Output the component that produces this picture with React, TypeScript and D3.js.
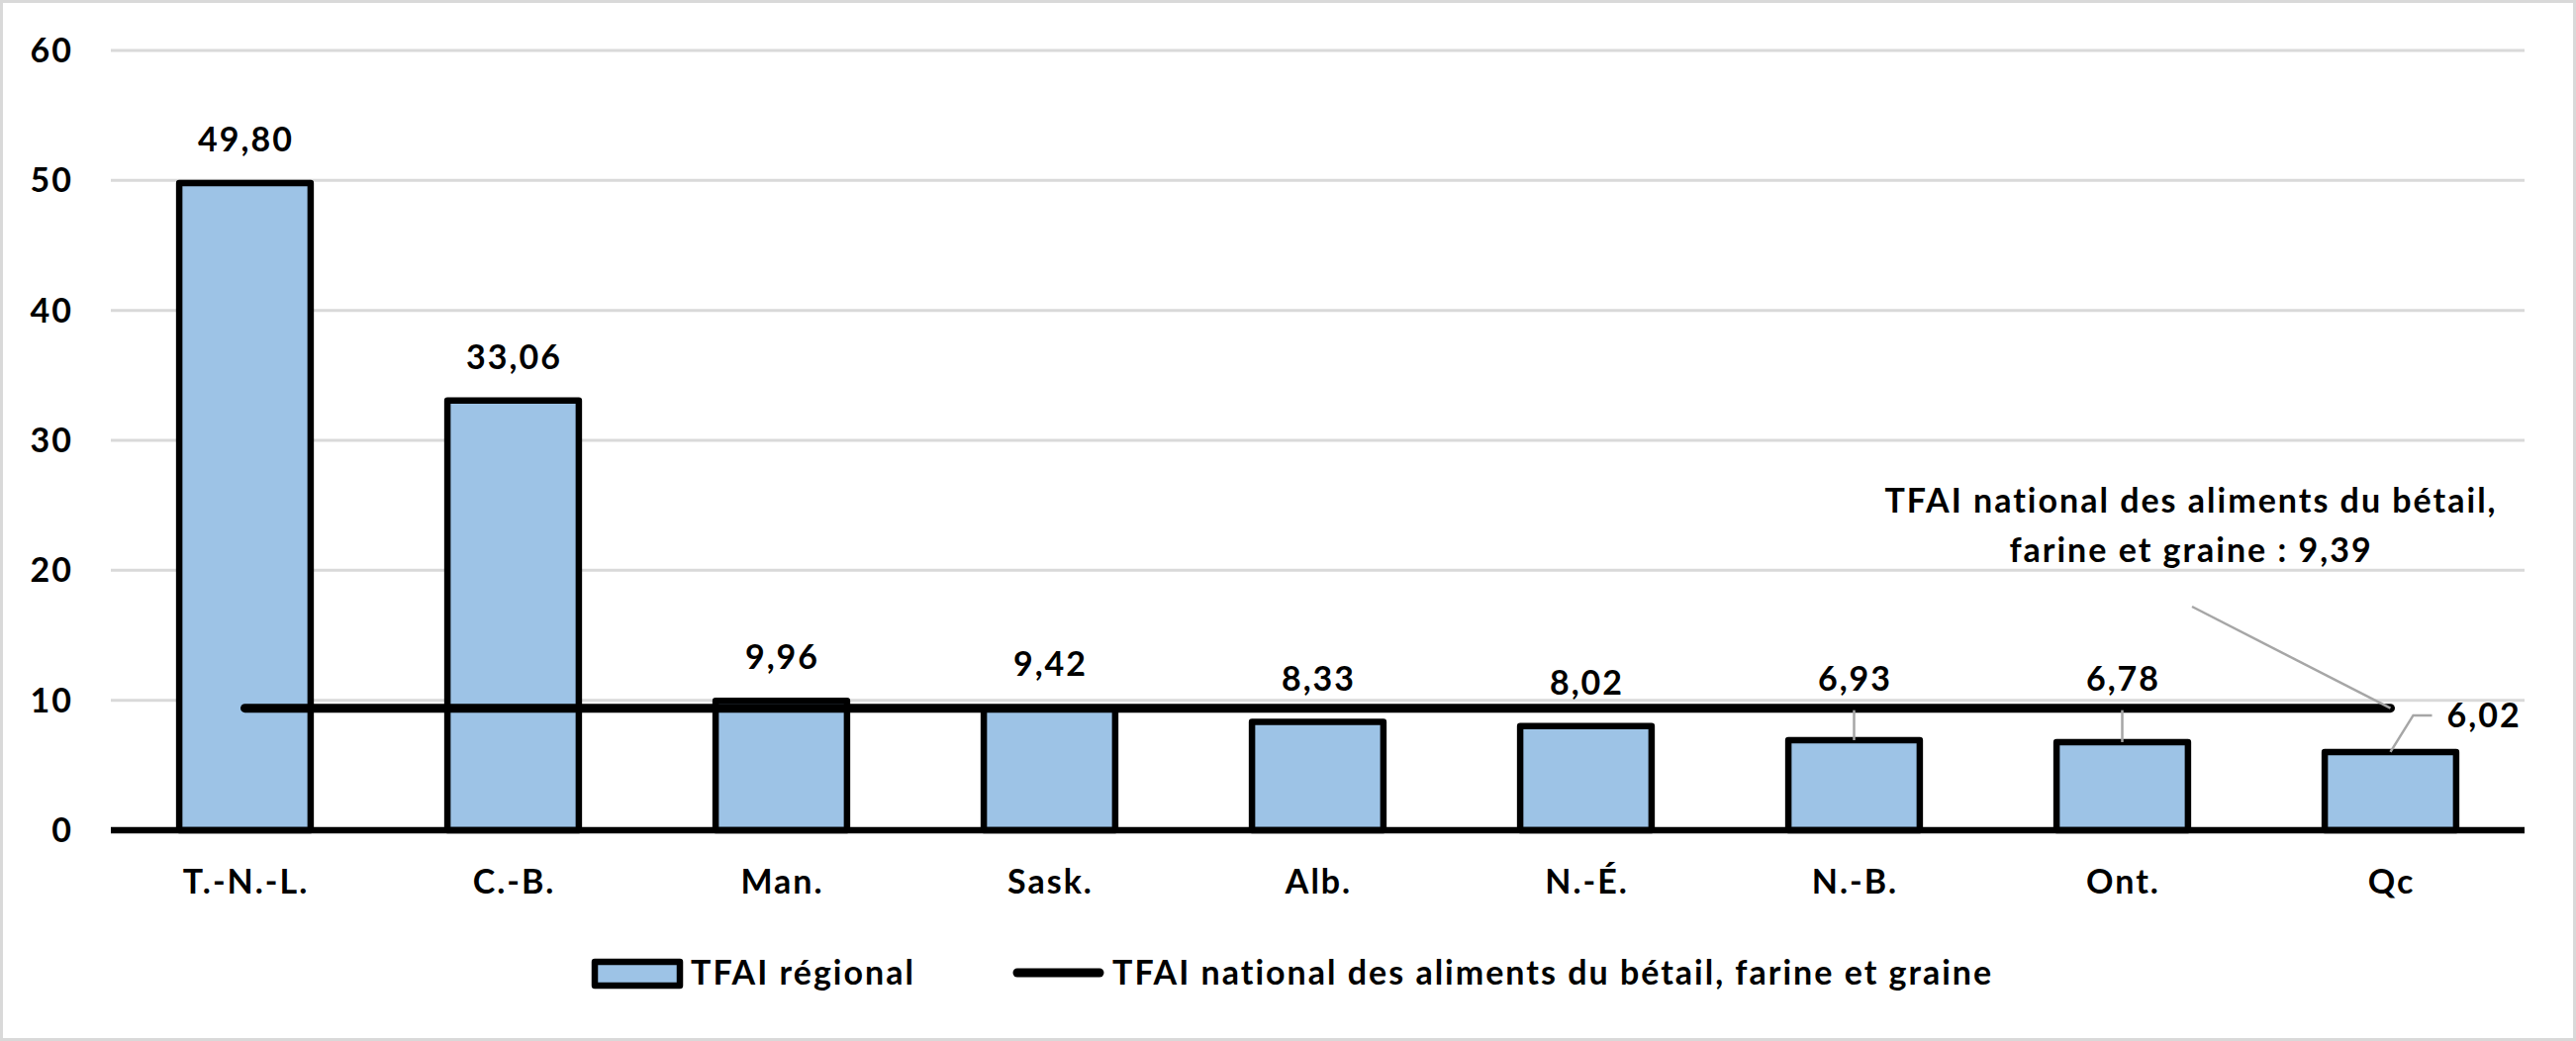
import React from "react";
import * as d3 from "d3";

const categories = ["T.-N.-L.", "C.-B.", "Man.", "Sask.", "Alb.", "N.-É.", "N.-B.", "Ont.", "Qc"];
const regionalValues = [49.8, 33.06, 9.96, 9.42, 8.33, 8.02, 6.93, 6.78, 6.02];
const nationalValue = 9.39;
const yTicks = [0, 10, 20, 30, 40, 50, 60];
const seriesNames = ["TFAI régional", "TFAI national des aliments du bétail, farine et graine"];
const annotationLines = ["TFAI national des aliments du bétail,", "farine et graine : 9,39"];

const W = 2603;
const H = 1052;
const FONT = "Lato, 'Noto Sans', sans-serif";
const FS = 34;
const LS = 2;
const BLUE = "#9DC3E6";
const GRID = "#D9D9D9";
const LEADER = "#A6A6A6";

const fmt = (v: number) => v.toFixed(2).replace(".", ",");

export default function App() {
  const x = d3
    .scaleBand<string>()
    .domain(categories)
    .range([112, 2551])
    .paddingInner(0.51)
    .paddingOuter(0.255);
  const y = d3.scaleLinear().domain([0, 60]).range([839, 51]);
  const cx = (c: string) => (x(c) as number) + x.bandwidth() / 2;

  const nationalLine = d3.line<string>()
    .x((c) => cx(c))
    .y(() => y(nationalValue));

  return (
    <svg
      width={W}
      height={H}
      style={{ position: "absolute", left: 0, top: 0, background: "#fff" }}
      fontFamily={FONT}
      fontWeight={700}
      fontSize={FS}
      letterSpacing={LS}
    >
      <rect x={0} y={0} width={W} height={H} fill="#fff" />
      <rect x={1.5} y={1.5} width={W - 3} height={H - 3} fill="none" stroke={GRID} strokeWidth={3} />

      {/* gridlines */}
      {yTicks.filter((t) => t > 0).map((t) => (
        <line key={"g" + t} x1={112} x2={2551} y1={y(t)} y2={y(t)} stroke={GRID} strokeWidth={3} />
      ))}

      {/* y tick labels */}
      {yTicks.map((t) => (
        <text key={"t" + t} x={74} y={y(t) + 12} textAnchor="end" fill="#000">
          {t}
        </text>
      ))}

      {/* bars */}
      {categories.map((c, i) => (
        <rect
          key={"b" + c}
          x={x(c)}
          y={y(regionalValues[i])}
          width={x.bandwidth()}
          height={y(0) - y(regionalValues[i])}
          fill={BLUE}
          stroke="#000"
          strokeWidth={6.5}
          strokeLinejoin="round"
        />
      ))}

      {/* x axis */}
      <line x1={112} x2={2551} y1={y(0)} y2={y(0)} stroke="#000" strokeWidth={6.5} />

      {/* national line */}
      <path
        d={nationalLine(categories) || ""}
        fill="none"
        stroke="#000"
        strokeWidth={9}
        strokeLinecap="round"
      />

      {/* category labels */}
      {categories.map((c) => (
        <text key={"c" + c} x={cx(c) + LS / 2} y={903} textAnchor="middle" fill="#000">
          {c}
        </text>
      ))}

      {/* value labels */}
      {categories.map((c, i) => {
        const v = regionalValues[i];
        const top = y(v);
        const px = cx(c);
        if (i === categories.length - 1) {
          return (
            <g key={"v" + c}>
              <polyline
                points={`${px},${top} ${px + 23},${top - 37} ${px + 42},${top - 37}`}
                fill="none"
                stroke={LEADER}
                strokeWidth={2.5}
              />
              <text x={px + 57} y={top - 25} textAnchor="start" fill="#000">
                {fmt(v)}
              </text>
            </g>
          );
        }
        if (i === 6 || i === 7) {
          const base = y(nationalValue) - 18;
          return (
            <g key={"v" + c}>
              <line x1={px} x2={px} y1={base + 20} y2={top} stroke={LEADER} strokeWidth={2.5} />
              <text x={px + LS / 2} y={base} textAnchor="middle" fill="#000">
                {fmt(v)}
              </text>
            </g>
          );
        }
        return (
          <text key={"v" + c} x={px + LS / 2} y={top - 32} textAnchor="middle" fill="#000">
            {fmt(v)}
          </text>
        );
      })}

      {/* national annotation */}
      <line
        x1={2215}
        y1={613}
        x2={cx(categories[categories.length - 1])}
        y2={y(nationalValue)}
        stroke={LEADER}
        strokeWidth={2.5}
      />
      {annotationLines.map((t, i) => (
        <text key={"a" + i} x={2213 + LS / 2} y={518 + i * 50} textAnchor="middle" fill="#000">
          {t}
        </text>
      ))}

      {/* legend */}
      <rect x={601} y={972} width={86} height={24} fill={BLUE} stroke="#000" strokeWidth={6.5} strokeLinejoin="round" />
      <text x={698} y={995} fill="#000">{seriesNames[0]}</text>
      <line x1={1028} x2={1111} y1={983} y2={983} stroke="#000" strokeWidth={9} strokeLinecap="round" />
      <text x={1124} y={995} fill="#000">{seriesNames[1]}</text>
    </svg>
  );
}
